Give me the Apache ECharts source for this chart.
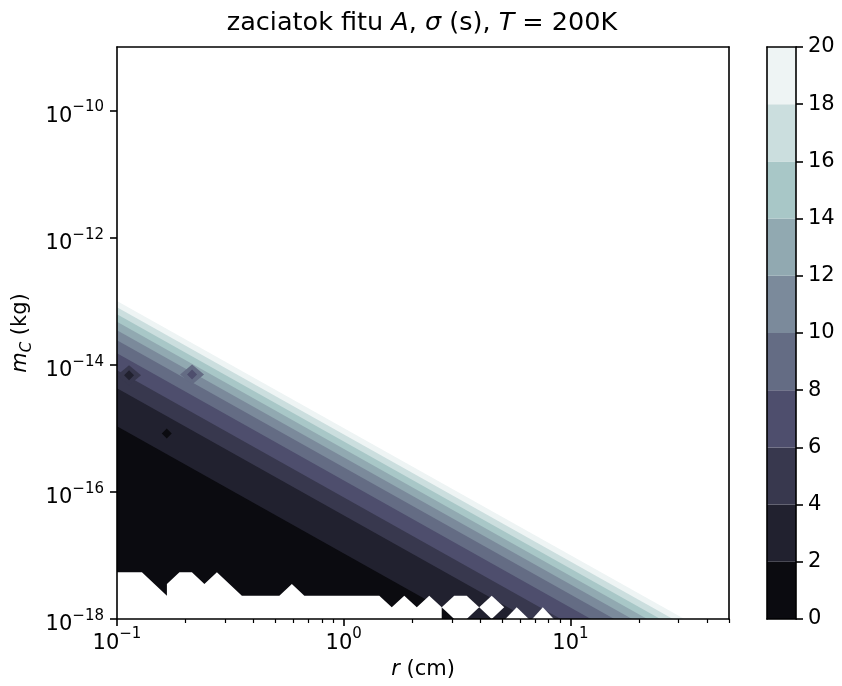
<!DOCTYPE html>
<html>
<head>
<meta charset="utf-8">
<script src="https://cdn.jsdelivr.net/npm/echarts@6/dist/echarts.min.js"></script>
<style>html,body{margin:0;padding:0;background:#fff}#c{width:842px;height:686px}</style>
</head>
<body>
<div id="c"></div>
<script>
// ---------------- data ----------------
const levels = [0, 2, 4, 6, 8, 10, 12, 14, 16, 18, 20];
const bandColors = ['#0b0b10', '#21212f', '#38384e', '#4e4e6d', '#646c84', '#7b8a9b', '#91a9b1', '#a8c7c7', '#cbdede', '#eef4f4'];
// mass (kg) where contour levels 2,4,...,20 meet r = 0.1 cm
const boundaryMassAtLeftEdge = [1.08e-15, 4.28e-15, 8.2e-15, 1.52e-14, 2.43e-14, 3.48e-14, 4.74e-14, 6.22e-14, 8.02e-14, 1.01e-13];
// radius (cm) where contour levels 2,4,...,20 meet m = 1e-18 kg
const boundaryRadiusAtBottom = [3.28, 6.54, 9.06, 12.3, 15.6, 18.7, 21.8, 24.9, 28.3, 31.8];
const rLeft = 0.1;
const mBottom = 1e-18;
// undefined (no fit) regions near the bottom, vertices [r (cm), m (kg)]
const gapRegions = [
  [[0.1, 1e-18], [0.1, 5.43e-18], [0.1288, 5.43e-18], [0.166, 2.33e-18], [0.166, 3.56e-18], [0.1885, 5.43e-18],
   [0.214, 5.43e-18], [0.2429, 3.56e-18], [0.2758, 5.43e-18], [0.3554, 2.33e-18], [0.52, 2.33e-18], [0.5904, 3.56e-18],
   [0.6703, 2.33e-18], [1.435, 2.33e-18], [1.628, 1.53e-18], [1.849, 2.33e-18], [2.099, 1.53e-18], [2.383, 2.33e-18],
   [2.704, 1.53e-18], [2.704, 1e-18]],
  [[2.704, 1.53e-18], [3.07, 2.33e-18], [3.485, 2.33e-18], [3.957, 1.53e-18], [3.485, 1e-18], [3.07, 1e-18]],
  [[3.957, 1.53e-18], [4.492, 2.33e-18], [5.1, 1.53e-18], [4.492, 1e-18]],
  [[5.16, 1e-18], [5.79, 1.53e-18], [6.55, 1e-18]],
  [[6.78, 1e-18], [7.55, 1.53e-18], [8.44, 1e-18]]
];
// isolated dips: [r, m, value]
const dipHalos = [[0.113, 6.84e-15, 5], [0.2143, 7.02e-15, 9]];
const dipCores = [[0.113, 6.84e-15, 3], [0.2143, 7.02e-15, 7], [0.1657, 8.3e-16, 1]];
// axes
const xRange = [0.1, 50];
const yRange = [1e-18, 1e-9];
const xMajorTicks = [0.1, 1, 10];
const xMinorTicks = [0.2, 0.3, 0.4, 0.5, 0.6, 0.7, 0.8, 0.9, 2, 3, 4, 5, 6, 7, 8, 9, 20, 30, 40, 50];
const yMajorTicks = [1e-18, 1e-16, 1e-14, 1e-12, 1e-10];

// ---------------- chart ----------------
const lg = v => Math.round(Math.log10(v) * 1e9) / 1e9;
const FONT = 'DejaVu Sans';
const BLACK = '#000';
const LW = 1.6;

function supLabel(v) {
  const e = Math.round(v);
  return '{b|10}{s|' + (e < 0 ? '\u2212' + (-e) : String(e)) + '}';
}
const supRich = {
  b: { fontFamily: FONT, fontSize: 21, color: BLACK, lineHeight: 21, padding: [6, 0, 0, 0], verticalAlign: 'top' },
  s: { fontFamily: FONT, fontSize: 15, color: BLACK, lineHeight: 15, verticalAlign: 'top' }
};
const lineStyle = { color: BLACK, width: LW };

const chart = echarts.init(document.getElementById('c'), null, { renderer: 'canvas' });

const option = {
  animation: false,
  backgroundColor: '#fff',
  title: {
    text: '{n|zaciatok fitu }{i|A}{n|, }{i|\u03c3}{n| (s), }{i|T}{n| = 200K}',
    left: 417, top: 3, textAlign: 'center',
    textStyle: {
      fontWeight: 'normal', fontFamily: FONT, fontSize: 25,
      rich: {
        n: { fontFamily: FONT, fontSize: 25.5, color: BLACK, fontWeight: 'normal', lineHeight: 30 },
        i: { fontFamily: FONT, fontSize: 25.5, color: BLACK, fontWeight: 'normal', fontStyle: 'italic', lineHeight: 30 }
      }
    }
  },
  grid: [
    { left: 117, top: 47, width: 612, height: 572 },
    { left: 767, top: 47, width: 29, height: 572 }
  ],
  xAxis: [
    {
      gridIndex: 0, type: 'value', min: lg(xRange[0]), max: lg(xRange[1]), position: 'bottom', z: 10,
      axisLine: { show: true, onZero: false, lineStyle: lineStyle },
      axisTick: { show: true, customValues: xMajorTicks.map(lg), length: 7, lineStyle: lineStyle },
      axisLabel: { show: true, customValues: xMajorTicks.map(lg), formatter: supLabel, margin: 8, rich: supRich },
      splitLine: { show: false },
      name: '{i|r}{n| (cm)}', nameLocation: 'middle', nameGap: 38,
      nameTextStyle: {
        rich: {
          i: { fontFamily: FONT, fontSize: 21, color: BLACK, fontStyle: 'italic' },
          n: { fontFamily: FONT, fontSize: 21, color: BLACK }
        }
      }
    },
    {
      gridIndex: 0, type: 'value', min: lg(xRange[0]), max: lg(xRange[1]), position: 'bottom', z: 10,
      axisLine: { show: false, onZero: false },
      axisTick: { show: true, customValues: xMinorTicks.map(lg), length: 4, lineStyle: { color: BLACK, width: 1.2 } },
      axisLabel: { show: false }, splitLine: { show: false }
    },
    {
      gridIndex: 0, type: 'value', min: lg(xRange[0]), max: lg(xRange[1]), position: 'top', z: 10,
      axisLine: { show: true, onZero: false, lineStyle: lineStyle },
      axisTick: { show: false }, axisLabel: { show: false }, splitLine: { show: false }
    },
    {
      gridIndex: 1, type: 'value', min: 0, max: 1, position: 'bottom', z: 10,
      axisLine: { show: true, onZero: false, lineStyle: lineStyle },
      axisTick: { show: false }, axisLabel: { show: false }, splitLine: { show: false }
    },
    {
      gridIndex: 1, type: 'value', min: 0, max: 1, position: 'top', z: 10,
      axisLine: { show: true, onZero: false, lineStyle: lineStyle },
      axisTick: { show: false }, axisLabel: { show: false }, splitLine: { show: false }
    }
  ],
  yAxis: [
    {
      gridIndex: 0, type: 'value', min: lg(yRange[0]), max: lg(yRange[1]), position: 'left', z: 10,
      axisLine: { show: true, onZero: false, lineStyle: lineStyle },
      axisTick: { show: true, customValues: yMajorTicks.map(lg), length: 7, lineStyle: lineStyle },
      axisLabel: { show: true, customValues: yMajorTicks.map(lg), formatter: supLabel, margin: 13, rich: supRich },
      splitLine: { show: false },
      name: '{i|m}{sub|C}{n| (kg)}', nameLocation: 'middle', nameRotate: 90, nameGap: 72,
      nameTextStyle: {
        rich: {
          i: { fontFamily: FONT, fontSize: 21, color: BLACK, fontStyle: 'italic', lineHeight: 21, verticalAlign: 'top' },
          sub: { fontFamily: FONT, fontSize: 15, color: BLACK, fontStyle: 'italic', lineHeight: 15, padding: [10, 0, 0, 0], verticalAlign: 'top' },
          n: { fontFamily: FONT, fontSize: 21, color: BLACK, lineHeight: 21, verticalAlign: 'top' }
        }
      }
    },
    {
      gridIndex: 0, type: 'value', min: lg(yRange[0]), max: lg(yRange[1]), position: 'right', z: 10,
      axisLine: { show: true, onZero: false, lineStyle: lineStyle },
      axisTick: { show: false }, axisLabel: { show: false }, splitLine: { show: false }
    },
    {
      gridIndex: 1, type: 'value', min: levels[0], max: levels[levels.length - 1], position: 'right', z: 10,
      axisLine: { show: true, onZero: false, lineStyle: lineStyle },
      axisTick: { show: true, customValues: levels, length: 7, lineStyle: lineStyle },
      axisLabel: { show: true, customValues: levels, margin: 12, fontFamily: FONT, fontSize: 21, color: BLACK },
      splitLine: { show: false }
    },
    {
      gridIndex: 1, type: 'value', min: levels[0], max: levels[levels.length - 1], position: 'left', z: 10,
      axisLine: { show: true, onZero: false, lineStyle: lineStyle },
      axisTick: { show: false }, axisLabel: { show: false }, splitLine: { show: false }
    }
  ],
  series: [
    {
      type: 'custom', name: 'bands', xAxisIndex: 0, yAxisIndex: 0, z: 2, clip: true,
      data: boundaryMassAtLeftEdge.map((m, i) => [lg(rLeft), lg(m), i]).reverse(),
      renderItem: function (params, api) {
        const i = api.value(2);
        const pts = [
          [lg(rLeft), lg(boundaryMassAtLeftEdge[i])],
          [lg(boundaryRadiusAtBottom[i]), lg(mBottom)],
          [lg(rLeft), lg(mBottom)]
        ].map(p => api.coord(p));
        return { type: 'polygon', z2: 20 - i, shape: { points: pts }, style: { fill: bandColors[i] } };
      }
    },
    {
      type: 'custom', name: 'gaps', xAxisIndex: 0, yAxisIndex: 0, z: 3, clip: true,
      data: gapRegions.map((poly, k) => [lg(poly[0][0]), lg(poly[0][1]), k]),
      renderItem: function (params, api) {
        const k = api.value(2);
        const pts = gapRegions[k].map(p => api.coord([lg(p[0]), lg(p[1])]));
        return { type: 'polygon', shape: { points: pts }, style: { fill: '#ffffff' } };
      }
    },
    {
      type: 'scatter', name: 'halo', xAxisIndex: 0, yAxisIndex: 0, z: 4,
      symbol: 'diamond', symbolSize: [24, 20],
      data: dipHalos.map(d => [lg(d[0]), lg(d[1]), d[2]]),
      itemStyle: { color: p => bandColors[Math.floor(p.value[2] / 2)], opacity: 1 }
    },
    {
      type: 'scatter', name: 'dip', xAxisIndex: 0, yAxisIndex: 0, z: 5,
      symbol: 'diamond', symbolSize: [10, 10],
      data: dipCores.map(d => [lg(d[0]), lg(d[1]), d[2]]),
      itemStyle: { color: p => bandColors[Math.floor(p.value[2] / 2)], opacity: 1 }
    },
    {
      type: 'custom', name: 'colorbar', xAxisIndex: 3, yAxisIndex: 2, z: 2,
      data: levels.slice(0, -1).map((lo, k) => [0.5, lo, k]),
      renderItem: function (params, api) {
        const k = api.value(2);
        const p0 = api.coord([0, levels[k]]);
        const p1 = api.coord([1, levels[k + 1]]);
        return {
          type: 'rect',
          shape: { x: p0[0], y: p1[1], width: p1[0] - p0[0], height: p0[1] - p1[1] },
          style: { fill: bandColors[k] }
        };
      }
    }
  ]
};
chart.setOption(option);
</script>
</body>
</html>
